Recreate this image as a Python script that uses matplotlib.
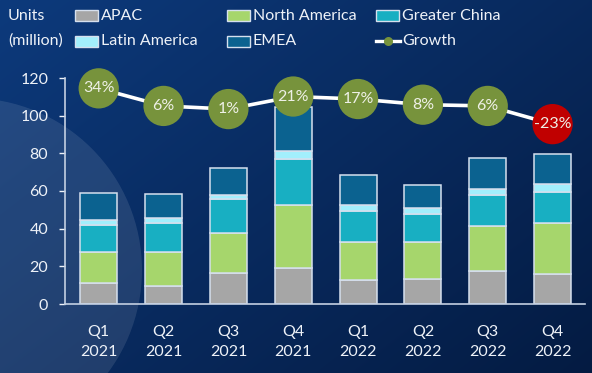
import numpy as np
import matplotlib.pyplot as plt
from matplotlib.patches import Rectangle, Circle
from matplotlib.lines import Line2D
from matplotlib.colors import to_rgb

plt.rcParams['font.family'] = ['Lato', 'DejaVu Sans']

# ── data (million units) ─────────────────────────────────────────────────────
quarters = ['Q1\n2021', 'Q2\n2021', 'Q3\n2021', 'Q4\n2021',
            'Q1\n2022', 'Q2\n2022', 'Q3\n2022', 'Q4\n2022']
apac          = [11.0,  9.6, 16.7, 19.2, 12.8, 13.3, 17.3, 16.0]
north_america = [16.6, 18.0, 21.2, 33.2, 20.1, 19.6, 24.0, 27.2]
greater_china = [14.4, 15.4, 17.7, 24.4, 16.3, 14.8, 16.7, 16.5]
latin_america = [ 2.4,  2.5,  2.2,  4.2,  3.2,  3.2,  3.3,  3.8]
emea          = [14.3, 12.8, 14.6, 23.5, 16.0, 12.2, 16.0, 16.3]
growth_pct    = [34, 6, 1, 21, 17, 8, 6, -23]

series = [
    ('APAC',          apac,          '#a6a6a6'),
    ('North America', north_america, '#a6d66c'),
    ('Greater China', greater_china, '#18afc2'),
    ('Latin America', latin_america, '#a2effc'),
    ('EMEA',          emea,          '#0b6290'),
]

TXT = '#eef2f8'
EDGE = '#d6e0ee'

W, H = 592, 373
fig = plt.figure(figsize=(W / 100, H / 100), dpi=100)

# ── background: dark blue gradient + soft circle on the left ────────────────
bg = fig.add_axes([0, 0, 1, 1], zorder=-10)
yy, xx = np.mgrid[0:H, 0:W]
t = 0.55 * xx / W + 0.45 * yy / H
c0, c1 = np.array(to_rgb('#0d3a7c')), np.array(to_rgb('#041b42'))
grad = c0[None, None, :] * (1 - t[..., None]) + c1[None, None, :] * t[..., None]
bg.imshow(grad, extent=(0, W, H, 0), aspect='auto')
bg.add_patch(Circle((-30, 270), 172, color='white', alpha=0.1, lw=0))
bg.set_xlim(0, W); bg.set_ylim(H, 0)
bg.axis('off')

# ── main axes ────────────────────────────────────────────────────────────────
ax = fig.add_axes([65 / W, 1 - 304 / H, 520 / W, 226 / H])
ax.set_facecolor('none')
x = np.arange(len(quarters))
bottom = np.zeros(len(quarters))
for name, vals, col in series:
    ax.bar(x, vals, 0.57, bottom=bottom, color=col, edgecolor=EDGE, lw=1.1, zorder=2)
    bottom += np.array(vals)

ax.set_xlim(-0.52, 7.5)
ax.set_ylim(0, 120)
ax.set_yticks(range(0, 121, 20))
ax.set_xticks(x)
ax.set_xticklabels(quarters, linespacing=1.55)
ax.tick_params(axis='y', colors=TXT, labelsize=11.5, length=4, width=1, pad=8)
ax.tick_params(axis='x', colors=TXT, labelsize=11.5, length=0, pad=15)
for s in ['top', 'right']:
    ax.spines[s].set_visible(False)
for s in ['left', 'bottom']:
    ax.spines[s].set_color('#c4d0e2')
    ax.spines[s].set_linewidth(1.2)

# growth line on its own scale
ax2 = ax.twinx()
ax2.set_ylim(-309.5, 50.5)
ax2.axis('off')
ax2.plot(x, growth_pct, color='white', lw=2.6, zorder=3, clip_on=False)
dot_cols = ['#77933c' if g >= 0 else '#c00000' for g in growth_pct]
ax2.scatter(x, growth_pct, s=29 ** 2, c=dot_cols, zorder=4, lw=0, clip_on=False)
for xi, g in zip(x, growth_pct):
    ax2.text(xi, g, f'{g}%', ha='center', va='center', color='#eef0e6',
             fontsize=11.5, zorder=5)

# ── legend (drawn by hand in pixel coords) ───────────────────────────────────
lg = fig.add_axes([0, 0, 1, 1], zorder=5)
lg.set_xlim(0, W); lg.set_ylim(H, 0); lg.axis('off')
lg.text(8, 15.5, 'Units', color=TXT, fontsize=11.5, va='center')
lg.text(8, 41, '(million)', color=TXT, fontsize=11.5, va='center')
slots = {'APAC': (75, 15.5), 'North America': (227, 15.5), 'Greater China': (376, 15.5),
         'Latin America': (75, 41), 'EMEA': (227, 41)}
for name, vals, col in series:
    px, py = slots[name]
    lg.add_patch(Rectangle((px, py - 5.5), 23, 11, facecolor=col, edgecolor=EDGE, lw=1))
    lg.text(px + 26, py, name, color=TXT, fontsize=11.5, va='center')
lg.add_line(Line2D([376, 400], [41, 41], color='white', lw=2.4))
lg.plot([388], [41], 'o', color='#77933c', ms=6.5, mec='none')
lg.text(402, 41, 'Growth', color=TXT, fontsize=11.5, va='center')

fig.savefig('out.png', dpi=100)
